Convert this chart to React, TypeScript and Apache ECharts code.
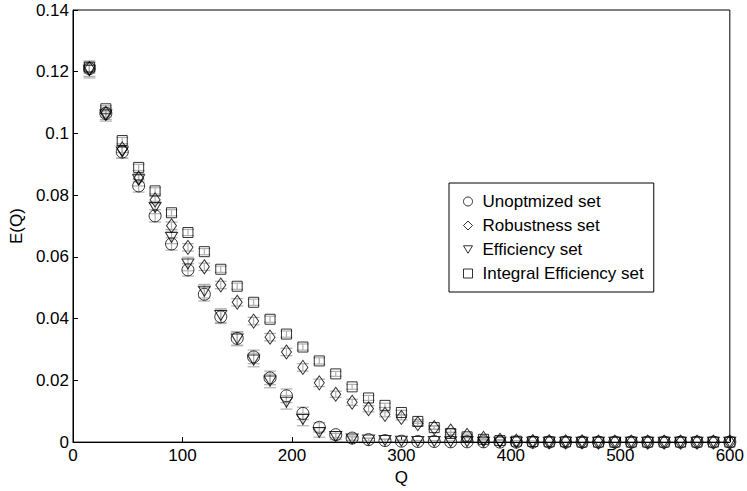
import React, { useEffect, useRef } from "react";
import * as echarts from "echarts";

const Q = [15, 30, 45, 60, 75, 90, 105, 120, 135, 150, 165, 180, 195, 210, 225, 240, 255, 270, 285, 300,
  315, 330, 345, 360, 375, 390, 405, 420, 435, 450, 465, 480, 495, 510, 525, 540, 555, 570, 585, 600];

const unoptimized = [0.121, 0.1065, 0.094, 0.083, 0.0733, 0.0642, 0.0558, 0.0479, 0.0406, 0.0336,
  0.0276, 0.0208, 0.015, 0.0093, 0.0048, 0.0024, 0.0013, 0.0008, 0.0005, 0.0003,
  0.0002, 0.0002, 0.0001, 0.0001, 0.0001, 0, 0, 0, 0, 0,
  0, 0, 0, 0, 0, 0, 0, 0, 0, 0];
const robustness = [0.121, 0.1065, 0.095, 0.0855, 0.0785, 0.0701, 0.0631, 0.0568, 0.0509, 0.0453,
  0.0392, 0.034, 0.0292, 0.0242, 0.0192, 0.0155, 0.0129, 0.0108, 0.009, 0.008,
  0.006, 0.0047, 0.0036, 0.0022, 0.0012, 0.0006, 0.0003, 0.0002, 0.0001, 0.0001,
  0.0001, 0, 0, 0, 0, 0, 0, 0, 0, 0];
const efficiency = [0.1205, 0.106, 0.094, 0.085, 0.076, 0.0663, 0.0577, 0.0489, 0.041, 0.0334,
  0.0266, 0.0198, 0.0129, 0.0073, 0.0031, 0.0018, 0.001, 0.0007, 0.0005, 0.0003,
  0.0002, 0.0002, 0.0001, 0.0001, 0, 0, 0, 0, 0, 0,
  0, 0, 0, 0, 0, 0, 0, 0, 0, 0];
const integral = [0.1215, 0.108, 0.0977, 0.089, 0.0814, 0.0743, 0.0679, 0.0617, 0.056, 0.0505,
  0.0453, 0.0398, 0.035, 0.0308, 0.0263, 0.0221, 0.0179, 0.0143, 0.0119, 0.0096,
  0.0067, 0.0047, 0.0028, 0.0017, 0.0009, 0.0005, 0.0003, 0.0002, 0.0001, 0.0001,
  0, 0, 0, 0, 0, 0, 0, 0, 0, 0];

const unoptimizedErr = [0.0025, 0.002, 0.002, 0.002, 0.002, 0.002, 0.002, 0.0022, 0.0022, 0.0022,
  0.0022, 0.0022, 0.0022, 0.002, 0.0015, 0.001, 0.0007, 0.0005, 0.0004, 0.0003,
  0.0003, 0.0002, 0.0002, 0.0002, 0.0002, 0.0001, 0.0001, 0.0001, 0.0001, 0.0001,
  0.0001, 0.0001, 0.0001, 0.0001, 0.0001, 0.0001, 0.0001, 0.0001, 0.0001, 0.0001];
const robustnessErr = [0.0015, 0.0012, 0.0012, 0.0012, 0.0012, 0.0012, 0.0012, 0.0012, 0.0012, 0.0012,
  0.0012, 0.0012, 0.0012, 0.0012, 0.0012, 0.001, 0.001, 0.001, 0.0008, 0.0008,
  0.0007, 0.0006, 0.0005, 0.0004, 0.0003, 0.0002, 0.0002, 0.0001, 0.0001, 0.0001,
  0.0001, 0.0001, 0.0001, 0.0001, 0.0001, 0.0001, 0.0001, 0.0001, 0.0001, 0.0001];
const efficiencyErr = [0.0025, 0.002, 0.002, 0.002, 0.002, 0.002, 0.0022, 0.0022, 0.0022, 0.0022,
  0.0022, 0.0022, 0.0022, 0.002, 0.0015, 0.001, 0.0007, 0.0005, 0.0004, 0.0003,
  0.0003, 0.0002, 0.0002, 0.0002, 0.0001, 0.0001, 0.0001, 0.0001, 0.0001, 0.0001,
  0.0001, 0.0001, 0.0001, 0.0001, 0.0001, 0.0001, 0.0001, 0.0001, 0.0001, 0.0001];
const integralErr = [0.0015, 0.001, 0.001, 0.001, 0.001, 0.001, 0.001, 0.001, 0.001, 0.001,
  0.001, 0.001, 0.001, 0.001, 0.001, 0.0008, 0.0008, 0.0008, 0.0007, 0.0007,
  0.0006, 0.0005, 0.0004, 0.0003, 0.0002, 0.0002, 0.0001, 0.0001, 0.0001, 0.0001,
  0.0001, 0.0001, 0.0001, 0.0001, 0.0001, 0.0001, 0.0001, 0.0001, 0.0001, 0.0001];

const xTicks = [0, 100, 200, 300, 400, 500, 600];
const yTicks = [0, 0.02, 0.04, 0.06, 0.08, 0.1, 0.12, 0.14];

const FONT = "Liberation Sans, Arial, Helvetica, sans-serif";

const setsDef = [
  { name: "Unoptmized set", values: unoptimized, err: unoptimizedErr, symbol: "circle", size: 12, rotate: 0, icon: "circle" },
  { name: "Robustness set", values: robustness, err: robustnessErr, symbol: "diamond", size: [10, 14], rotate: 0, icon: "diamond" },
  { name: "Efficiency set", values: efficiency, err: efficiencyErr, symbol: "triangle", size: [12, 10], rotate: 180, icon: "path://M0,0L12,0L6,10Z" },
  { name: "Integral Efficiency set", values: integral, err: integralErr, symbol: "rect", size: 10, rotate: 0, icon: "rect" },
];

export default function App() {
  const ref = useRef<HTMLDivElement>(null);
  useEffect(() => {
    if (!ref.current) return;
    const chart = echarts.init(ref.current, null, { renderer: "svg" });

    const errSeries = setsDef.map((s) => ({
      name: "err-" + s.name,
      type: "custom",
      z: 1,
      clip: true,
      silent: true,
      encode: { x: 0, y: 1 },
      data: Q.map((q, i) => [q, s.values[i], s.err[i]]),
      renderItem: (params: any, api: any) => {
        const x = api.value(0);
        const y = api.value(1);
        const e = api.value(2);
        const top = api.coord([x, y + e]);
        const bot = api.coord([x, y - e]);
        const hw = 6;
        const style = { stroke: "#b0b0b0", lineWidth: 1.2, fill: "none" };
        return {
          type: "group",
          children: [
            { type: "line", shape: { x1: top[0], y1: top[1], x2: bot[0], y2: bot[1] }, style },
            { type: "line", shape: { x1: top[0] - hw, y1: top[1], x2: top[0] + hw, y2: top[1] }, style },
            { type: "line", shape: { x1: bot[0] - hw, y1: bot[1], x2: bot[0] + hw, y2: bot[1] }, style },
          ],
        };
      },
    }));

    const scatterSeries = setsDef.map((s) => ({
      name: s.name,
      type: "scatter",
      z: 3,
      symbol: s.symbol,
      symbolSize: s.size,
      symbolRotate: s.rotate,
      itemStyle: { color: "rgba(0,0,0,0)", borderColor: "#000", borderWidth: 1 },
      emphasis: { disabled: true },
      data: Q.map((q, i) => [q, s.values[i]]),
    }));

    chart.setOption({
      animation: false,
      backgroundColor: "#fff",
      textStyle: { fontFamily: FONT },
      grid: {
        left: 70, top: 10, width: 662, height: 442,
        show: true, borderColor: "#000", borderWidth: 1, backgroundColor: "transparent",
      },
      legend: {
        data: setsDef.map((s) => ({ name: s.name, icon: s.icon })),
        orient: "vertical",
        left: 449,
        top: 183,
        padding: [10, 10, 10, 14],
        itemGap: 7,
        itemWidth: 9,
        itemHeight: 9,
        borderColor: "#000",
        borderWidth: 1,
        backgroundColor: "#fff",
        selectedMode: false,
        textStyle: { fontFamily: FONT, fontSize: 17, color: "#000", padding: [0, 0, 0, 5] },
        itemStyle: { color: "rgba(0,0,0,0)", borderColor: "#000", borderWidth: 1 },
      },
      xAxis: {
        type: "value",
        min: xTicks[0],
        max: xTicks[xTicks.length - 1],
        interval: 100,
        name: "Q",
        nameLocation: "middle",
        nameGap: 17,
        nameTextStyle: { fontFamily: FONT, fontSize: 17, color: "#000" },
        axisLine: { onZero: false, lineStyle: { color: "#000", width: 1 } },
        axisTick: { inside: true, length: 5, lineStyle: { color: "#000" } },
        axisLabel: { margin: 5, fontFamily: FONT, fontSize: 17, color: "#000" },
        splitLine: { show: false },
      },
      yAxis: {
        type: "value",
        min: yTicks[0],
        max: yTicks[yTicks.length - 1],
        interval: 0.02,
        name: "E(Q)",
        nameLocation: "middle",
        nameGap: 45,
        nameTextStyle: { fontFamily: FONT, fontSize: 17, color: "#000" },
        axisLine: { onZero: false, lineStyle: { color: "#000", width: 1 } },
        axisTick: { inside: true, length: 5, lineStyle: { color: "#000" } },
        axisLabel: {
          margin: 4, fontFamily: FONT, fontSize: 17, color: "#000",
          formatter: (v: number) => String(Math.round(v * 100) / 100),
        },
        splitLine: { show: false },
      },
      series: [...errSeries, ...scatterSeries],
    });
    return () => chart.dispose();
  }, []);
  return (
    <div
      ref={ref}
      style={{ position: "absolute", left: 0, top: 0, width: 747, height: 491, background: "#fff" }}
    />
  );
}
